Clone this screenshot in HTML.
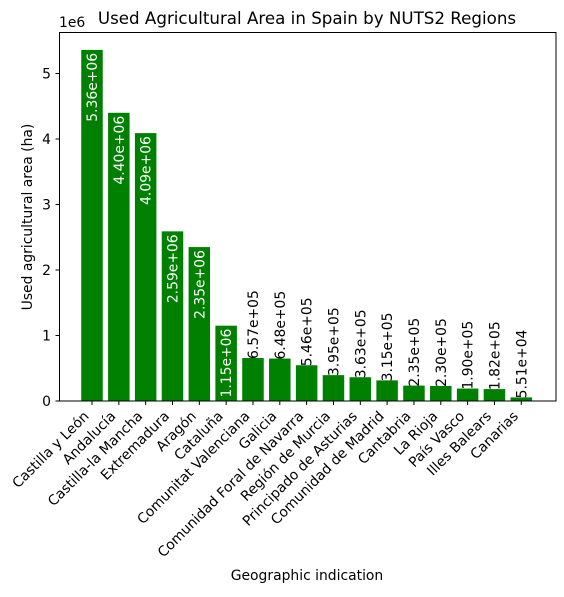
<!DOCTYPE html>
<html><head><meta charset="utf-8"><style>
html,body{margin:0;padding:0;background:#fff;}
svg text{font-family:"DejaVu Sans","Liberation Sans",sans-serif;}
</style></head><body>
<svg id="chart" width="564" height="592" xmlns="http://www.w3.org/2000/svg">
<text x="307" y="24" font-size="16.7" text-anchor="middle">Used Agricultural Area in Spain by NUTS2 Regions</text>
<text x="59" y="27" font-size="13.9">1e6</text>
<text transform="translate(32,217) rotate(-90)" font-size="13.9" text-anchor="middle">Used agricultural area (ha)</text>
<text x="307" y="580" font-size="13.9" text-anchor="middle">Geographic indication</text>
<g id="bars"></g><g id="ticks"></g>
<rect x="59.5" y="32.5" width="496.5" height="368.5" fill="none" stroke="#000" stroke-width="1"/>
</svg>
<script>
const categories = ["Castilla y León","Andalucía","Castilla-la Mancha","Extremadura","Aragón","Cataluña","Comunitat Valenciana","Galicia","Comunidad Foral de Navarra","Región de Murcia","Principado de Asturias","Comunidad de Madrid","Cantabria","La Rioja","País Vasco","Illes Balears","Canarias"];
const values = [5.36e6,4.40e6,4.09e6,2.59e6,2.35e6,1.15e6,6.57e5,6.48e5,5.46e5,3.95e5,3.63e5,3.15e5,2.35e5,2.30e5,1.90e5,1.82e5,5.51e4];
const yTicks = [0,1,2,3,4,5];
const NS="http://www.w3.org/2000/svg";
const X0=92, STEP=26.83, BW=21.5, Y0=401, PPU=65.5/1e6;
const xs=i=>X0+i*STEP, ys=v=>Y0-v*PPU;
const bars=document.getElementById('bars'), ticks=document.getElementById('ticks');
function mk(tag,attrs,parent){const e=document.createElementNS(NS,tag);for(const k in attrs)e.setAttribute(k,attrs[k]);parent.appendChild(e);return e;}
const maxV=Math.max(...values);
values.forEach((v,i)=>{
  const r=mk('rect',{x:xs(i)-BW/2,y:ys(v),width:BW,height:Y0-ys(v),fill:'#008000'},bars);
  
  
  const label=v.toExponential(2).replace(/e([+-])(\d)$/,'e$10$2');
  let t;
  if(v>maxV*0.2){
    t=mk('text',{transform:`translate(${xs(i)+5},${ys(v)+3}) rotate(-90)`,'font-size':13.9,'text-anchor':'end',fill:'#fff'},bars);
  }else{
    t=mk('text',{transform:`translate(${xs(i)+5},${ys(v)+1}) rotate(-90)`,'font-size':13.9,'text-anchor':'start',fill:'#000'},bars);
  }
  t.textContent=label;
  
  
  mk('line',{x1:xs(i),x2:xs(i),y1:Y0,y2:Y0+4,stroke:'#000'},ticks);
  const xl=mk('text',{transform:`translate(${xs(i)-2.3},${Y0+16}) rotate(-45)`,'font-size':13.9,'text-anchor':'end'},ticks);
  xl.textContent=categories[i];
  
  
});
yTicks.forEach(t=>{
  const y=ys(t*1e6);
  mk('line',{x1:55.5,x2:59.5,y1:y,y2:y,stroke:'#000'},ticks);
  const tl=mk('text',{x:51,y:y+5,'font-size':13.9,'text-anchor':'end'},ticks);
  tl.textContent=String(t);
  
  
});
</script>
</body></html>
